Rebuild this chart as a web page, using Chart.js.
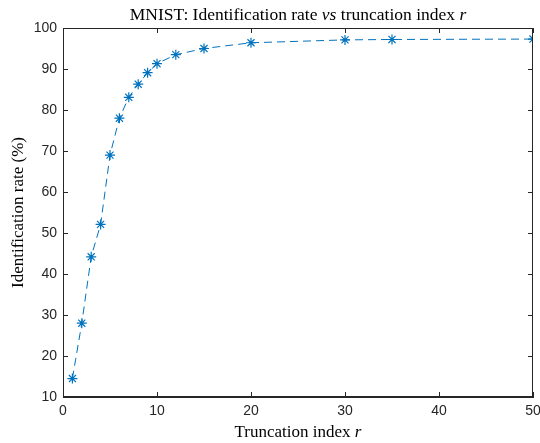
<!DOCTYPE html>
<html>
<head>
<meta charset="utf-8">
<script src="https://cdn.jsdelivr.net/npm/chart.js@4"></script>
<style>
  html, body { margin: 0; padding: 0; background: #fff; }
  #wrap { width: 540px; height: 443px; }
</style>
</head>
<body>
<div id="wrap"><canvas id="grafico" width="540" height="443"></canvas></div>
<script>
// valores
const indices = [1, 2, 3, 4, 5, 6, 7, 8, 9, 10, 12, 15, 20, 30, 35, 50];
const taxas = [14.5, 28, 44.2, 52.1, 69, 78, 83.1, 86.3, 89.1, 91.3, 93.5, 95, 96.4, 97.1, 97.2, 97.3];
const ticksX = [0, 10, 20, 30, 40, 50];
const ticksY = [10, 20, 30, 40, 50, 60, 70, 80, 90, 100];

const corEixo = '#262626';
const corLinha = '#0072BD';

// desenha caixa, ticks para dentro e textos com itálico
const molduraPlugin = {
    id: 'moldura',
    afterDraw(chart) {
        const { ctx, chartArea: a, scales } = chart;
        ctx.save();
        ctx.strokeStyle = corEixo;
        ctx.lineWidth = 1;
        ctx.strokeRect(a.left + 0.5, a.top + 0.5, a.right - a.left - 1, a.bottom - a.top - 1);
        const t = 5;
        ctx.beginPath();
        ticksX.forEach(v => {
            const x = Math.round(scales.x.getPixelForValue(v)) + 0.5;
            ctx.moveTo(x, a.bottom); ctx.lineTo(x, a.bottom - t);
            ctx.moveTo(x, a.top); ctx.lineTo(x, a.top + t);
        });
        ticksY.forEach(v => {
            const y = Math.round(scales.y.getPixelForValue(v)) + 0.5;
            ctx.moveTo(a.left, y); ctx.lineTo(a.left + t, y);
            ctx.moveTo(a.right, y); ctx.lineTo(a.right - t, y);
        });
        ctx.stroke();

        ctx.fillStyle = '#000';
        ctx.textBaseline = 'alphabetic';
        const serif = '"Liberation Serif", "DejaVu Serif", serif';
        function linha(partes, cx, cy, tam) {
            let total = 0;
            partes.forEach(p => {
                ctx.font = (p[1] ? 'italic ' : '') + tam + 'px ' + serif;
                total += ctx.measureText(p[0]).width;
            });
            let x = cx - total / 2;
            ctx.textAlign = 'left';
            partes.forEach(p => {
                ctx.font = (p[1] ? 'italic ' : '') + tam + 'px ' + serif;
                ctx.fillText(p[0], x, cy);
                x += ctx.measureText(p[0]).width;
            });
        }
        const meio = (a.left + a.right) / 2;
        linha([['MNIST: Identification rate ', false], ['vs', true], [' truncation index ', false], ['r', true]], meio, 20, 17.5);
        linha([['Truncation index ', false], ['r', true]], meio, 437, 17);
        ctx.save();
        ctx.translate(23, (a.top + a.bottom) / 2);
        ctx.rotate(-Math.PI / 2);
        linha([['Identification rate (%)', false]], 0, 0, 17);
        ctx.restore();
        ctx.restore();
    }
};

const fonteTick = { family: '"Liberation Sans", Arial, sans-serif', size: 14 };

const ctx = document.getElementById('grafico').getContext('2d');
new Chart(ctx, {
    type: 'line',
    data: {
        datasets: [{
            data: indices.map((r, i) => ({ x: r, y: taxas[i] })),
            borderColor: corLinha,
            backgroundColor: corLinha,
            borderWidth: 1,
            borderDash: [8, 5],
            pointStyle: 'star',
            pointRadius: 5,
            pointBorderWidth: 1.2,
            pointBorderColor: corLinha,
            tension: 0
        }]
    },
    options: {
        responsive: false,
        animation: false,
        layout: { padding: { top: 28, right: 7, left: 0, bottom: 0 } },
        plugins: { legend: { display: false }, tooltip: { enabled: false } },
        scales: {
            x: {
                type: 'linear',
                min: 0, max: 50,
                afterBuildTicks: s => { s.ticks = ticksX.map(v => ({ value: v })); },
                afterFit: s => { s.height = 46; s.paddingLeft = 0; s.paddingRight = 0; },
                grid: { display: false, drawTicks: false },
                border: { display: true, color: corEixo },
                ticks: { color: corEixo, padding: 6, font: fonteTick }
            },
            y: {
                type: 'linear',
                min: 10, max: 100,
                afterBuildTicks: s => { s.ticks = ticksY.map(v => ({ value: v })); },
                afterFit: s => { s.width = 63; s.paddingTop = 0; s.paddingBottom = 0; },
                grid: { display: false, drawTicks: false },
                border: { display: true, color: corEixo },
                ticks: { color: corEixo, padding: 6, font: fonteTick }
            }
        }
    },
    plugins: [molduraPlugin]
});
</script>
</body>
</html>
